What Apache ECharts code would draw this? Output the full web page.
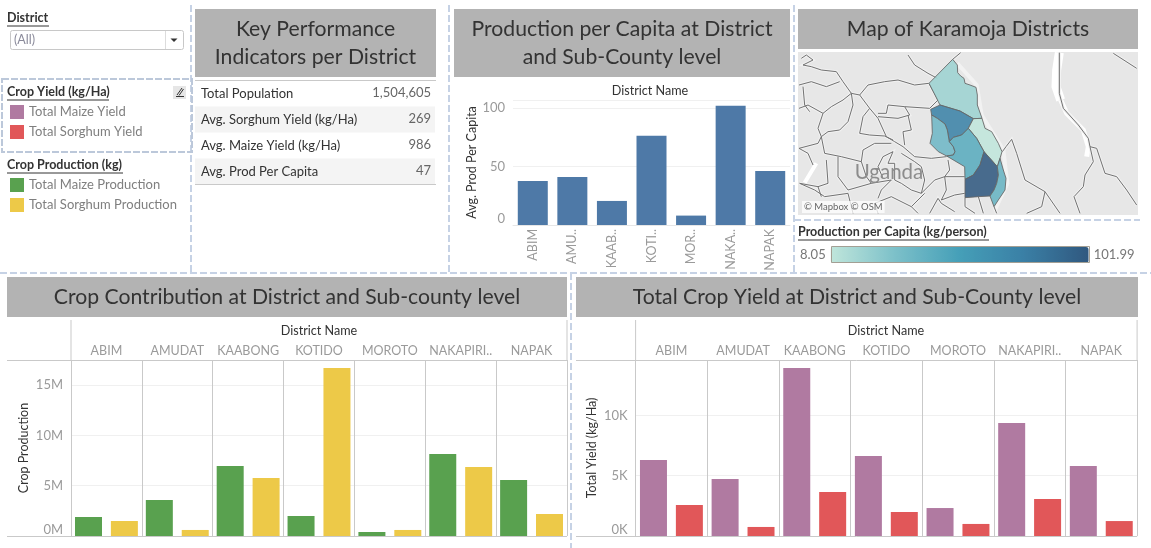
<!DOCTYPE html>
<html><head><meta charset="utf-8">
<style>html,body{margin:0;padding:0;background:#fff}#c{width:1151px;height:548px}</style>
<script src="https://cdn.jsdelivr.net/npm/echarts@6/dist/echarts.min.js"></script>
</head><body><div id="c"></div>
<script>
const districts = ['ABIM','AMUDAT','KAABONG','KOTIDO','MOROTO','NAKAPIRITI','NAPAK'];
const facetLabels = ['ABIM','AMUDAT','KAABONG','KOTIDO','MOROTO','NAKAPIRI..','NAPAK'];
const shortLabels = ['ABIM','AMU..','KAAB..','KOTI..','MOR..','NAKA..','NAPAK'];
const prodPerCapita = [37.7,41.1,20.6,76.3,8.05,101.99,46.3];
const maizeProduction = [1890000,3580000,6970000,1990000,400000,8160000,5570000];
const sorghumProduction = [1490000,600000,5770000,16700000,600000,6870000,2190000];
const maizeYield = [6300,4730,13930,6630,2320,9370,5800];
const sorghumYield = [2570,750,3650,1990,1000,3070,1240];
const kpiLabels = ['Total Population','Avg. Sorghum Yield (kg/Ha)','Avg. Maize Yield (kg/Ha)','Avg. Prod Per Capita'];
const kpiValues = ['1,504,605','269','986','47'];

// map geometry, in map units
const districtShapes = {
  KAABONG:[[98,28],[112,45],[113,68],[122,78],[132,85],[135,100],[150,105],[168,112],[172,135],[172,165],[186,205],[160,206],[120,183],[60,165],[27,100]],
  KOTIDO:[[60,165],[120,183],[160,206],[145,235],[125,255],[100,262],[88,275],[82,240],[75,222],[52,205],[35,195],[32,178]],
  MOROTO:[[186,205],[195,235],[215,245],[235,280],[246,305],[240,325],[232,350],[192,305],[170,265],[145,235],[160,206]],
  ABIM:[[35,195],[52,205],[75,222],[82,240],[88,275],[100,290],[105,305],[100,315],[80,318],[55,305],[30,280],[37,250]],
  NAPAK:[[88,275],[100,262],[125,255],[145,235],[170,265],[192,305],[180,345],[160,375],[135,388],[134,350],[80,318],[100,315],[105,305],[100,290]],
  NAKAPIRITI:[[192,305],[232,350],[235,375],[230,400],[222,420],[210,438],[175,440],[135,443],[135,388],[160,375],[180,345]],
  AMUDAT:[[232,350],[240,325],[250,360],[258,385],[255,420],[235,450],[222,470],[210,438],[222,420],[230,400],[235,375]]
};
const westRoads = [
 [[10,25],[25,15],[45,30],[15,45],[40,50],[70,60],[115,65],[135,95],[160,130],[185,135],[210,105],[260,95],[300,90],[350,105],[392,100]],
 [[330,15],[350,45],[390,70],[418,85]],
 [[3,105],[40,95],[85,110],[125,95]],
 [[15,110],[20,165],[35,185]],
 [[160,130],[135,150],[100,170],[75,190],[60,235],[70,260]],
 [[3,175],[30,165],[75,190]],
 [[185,135],[215,175],[240,205],[265,260],[290,275],[315,290],[350,320],[400,325],[445,320]],
 [[160,130],[165,165],[150,215],[125,240],[90,245],[70,260],[60,280],[3,295]],
 [[215,175],[195,200],[185,250],[215,255],[260,258],[285,270]],
 [[240,190],[265,190],[270,165],[320,170],[395,175],[420,150],[393,100]],
 [[330,195],[340,240],[315,245],[320,285]],
 [[320,170],[335,195],[300,205],[240,200]],
 [[70,260],[80,310],[130,320],[190,335],[195,300],[230,280],[280,280]],
 [[120,320],[120,380],[150,420],[220,400],[280,390]],
 [[85,330],[90,400],[60,410],[5,400]],
 [[255,320],[285,305],[270,340],[290,340],[290,390],[310,400]],
 [[310,310],[350,335],[370,350],[380,390],[370,430],[410,390],[440,380],[500,380]],
 [[450,330],[455,360],[440,380],[445,420],[430,450],[470,435],[500,430]],
 [[5,400],[50,420],[80,440],[150,430]],
 [[240,490],[230,460],[280,440],[340,470],[380,430]],
 [[395,490],[420,445],[430,460],[470,485]],
 [[3,295],[30,310],[45,345]],
 [[150,430],[165,490]],
 [[280,390],[250,420],[240,445]],
 [[340,470],[360,490]],
 [[60,410],[70,440]],
 [[310,400],[340,420],[370,430]],
 [[190,335],[205,380],[220,400]],
 [[255,320],[240,350],[255,385]]
];
const eastRoads = [
 [[418,8],[418,130],[430,175],[475,225],[505,265],[510,290],[520,335],[495,375],[490,410],[462,440],[480,490]],
 [[510,290],[530,295],[555,370],[590,380],[620,420],[650,465]],
 [[580,10],[650,55]],
 [[247,305],[258,290],[275,268],[290,310],[315,390],[375,425],[420,490]],
 [[375,425],[365,470],[320,490]],
 [[98,28],[122,8]],
 [[135,443],[135,470],[165,490]],
 [[175,440],[190,490]],
 [[222,470],[230,490]]
];
const riverWide = [[418,8],[410,60],[408,110],[422,150]];
const riverNarrow = [[422,150],[440,190],[490,240],[505,290],[500,320]];
const westLake = [[20,398],[55,340]];
const borderHalo = [[112,40],[170,105],[185,195],[250,300],[262,400],[225,480]];

const font = 'Lato, "Noto Sans", sans-serif';
const EAST = 366;
const toGeo = p => [p[0], -p[1]];
const toGeoE = p => [p[0] + EAST, -p[1]];

echarts.registerMap('karamoja', {type:'FeatureCollection', features: Object.keys(districtShapes).map(n => {
  const r = districtShapes[n].map(toGeoE); r.push(r[0]);
  return {type:'Feature', properties:{name:n}, geometry:{type:'Polygon', coordinates:[r]}};
})});
echarts.registerMap('backdrop', {type:'FeatureCollection', features:[{type:'Feature', properties:{name:'land'},
  geometry:{type:'Polygon', coordinates:[[[0,-6],[1020,-6],[1020,-495],[0,-495],[0,-6]]]}}]});

const mapBox = {left:798, top:52, width:340, height:163};
const mapBounds = [[0,-6],[1020,-495]];

const gridLine = '#c9c9c9', faint = '#f0f0f0', tickText = '#9a9a9a', dark = '#333';
const G = [];
const text = (x,y,t,o={}) => G.push({type:'text', silent:true, z:o.z||10, x, y, style:{text:t, fill:o.fill||dark,
  font:`${o.weight||'normal'} ${o.size||13}px ${font}`, textAlign:o.align||'left', textVerticalAlign:'middle', backgroundColor:o.bg, padding:o.pad}});
const rect = (x,y,w,h,fill,o={}) => G.push({type:'rect', silent:true, z:o.z||1, shape:{x,y,width:w,height:h,r:o.r||0},
  style:{fill, stroke:o.stroke, lineWidth:o.lw||1}});
const line = (x1,y1,x2,y2,stroke,o={}) => G.push({type:'line', silent:true, z:o.z||5, shape:{x1,y1,x2,y2},
  style:{stroke, lineWidth:o.lw||1, lineDash:o.dash}});
const dash = (x1,y1,x2,y2) => line(x1,y1,x2,y2,'#c6d2e5',{lw:2,dash:[7,3],z:6});
const title = (x,y,w,h,lines) => { rect(x,y,w,h,'#b3b3b3');
  lines.forEach((t,i)=> text(x+w/2, y+h/2+(i-(lines.length-1)/2)*28, t, {size:21.2, align:'center'})); };
const heading = (x,y,t,w) => { text(x,y,t,{size:12.5,weight:'bold'}); line(x,y+8,x+w,y+8,dark); };

// frame
dash(191,5,191,272); dash(449,5,449,272); dash(794,5,794,272);
dash(0,273,1151,273); dash(571,273,571,548);
dash(794,220,1140,220);
G.push({type:'rect',silent:true,z:6,shape:{x:2,y:79,width:190,height:73},style:{fill:null,stroke:'#bcc8da',lineWidth:2,lineDash:[7,2]}});

// titles
title(195,9,241,68,['Key Performance','Indicators per District']);
title(454,9,336,68,['Production per Capita at District','and Sub-County level']);
title(798,9,340,40,['Map of Karamoja Districts']);
title(7,277,560,40,['Crop Contribution at District and Sub-county level']);
title(576,277,562,40,['Total Crop Yield at District and Sub-County level']);

// filter
heading(7,18,'District',42);
rect(10.5,30.5,173,19,'#fff',{stroke:'#c8c8c8',r:2});
line(165.5,31,165.5,49,'#dcdcdc');
text(14,40,'(All)',{fill:'#8a8a9a',size:12.5});
G.push({type:'polygon',silent:true,z:7,shape:{points:[[170.5,38.5],[177.5,38.5],[174,42]]},style:{fill:'#333'}});
heading(7,92,'Crop Yield (kg/Ha)',102);
heading(7,165,'Crop Production (kg)',116);
rect(173,86,13,13,'#e6e6e6');
line(176,96.5,184,96.5,'#333');
line(177,95,182,88,'#333');
line(179,95.5,183.5,89,'#333');

// KPI
line(195,80.5,436,80.5,gridLine);
kpiLabels.forEach((k,i)=>{
  if(i%2) rect(195,80.5+i*26,240,26,'#f4f4f4');
  text(201,93.5+i*26,k,{size:13});
  text(431,93+i*26,kpiValues[i],{size:13,align:'right',fill:'#666'});
});
line(195,184.5,436,184.5,gridLine);

// facet furniture
text(650,90.5,'District Name',{size:12.6,align:'center'});
text(319,330.5,'District Name',{size:12.6,align:'center'});
text(886,330.5,'District Name',{size:12.6,align:'center'});
[[71,567,7],[635.6,1137.1,576]].forEach(([l,r,o])=>{
  line(l,320,l,360,gridLine); line(r,320,r,360,gridLine);
  line(o,360.5,r,360.5,gridLine); line(o,536.5,r,536.5,gridLine);
});

// map text
text(889,172,'Uganda',{size:20.5,fill:'#8c8c8c',align:'center',z:12});
text(802,207,'© Mapbox © OSM',{size:9.5,fill:'#666',bg:'rgba(255,255,255,.75)',pad:[1,2],z:12});
heading(798,232,'Production per Capita (kg/person)',191);
G.push({type:'rect',silent:true,z:20,shape:{x:831.5,y:246.5,width:258,height:16},style:{fill:null,stroke:'#a39f94',lineWidth:1}});

const catAxisTop = (gridIndex) => ({type:'category', gridIndex, position:'top', data:facetLabels,
  axisLine:{show:false}, axisTick:{show:true,length:20,lineStyle:{color:gridLine}},
  axisLabel:{interval:0,margin:3,color:tickText,fontFamily:font,fontSize:12.5},
  splitLine:{show:true,interval:0,lineStyle:{color:gridLine}}});
const valAxis = (gridIndex,max,interval,fmt,name,gap) => ({type:'value', gridIndex, min:0, max, interval, name, nameLocation:'middle', nameGap:gap,
  nameTextStyle:{color:dark,fontFamily:font,fontSize:12.5},
  axisLine:{show:false}, axisTick:{show:false},
  axisLabel:{color:tickText,fontFamily:font,fontSize:13,margin:8,showMaxLabel:false,verticalAlignMinLabel:'bottom',formatter:fmt},
  splitLine:{lineStyle:{color:faint}}});
const bars = (name,data,x,color,extra={}) => Object.assign({type:'bar',name,data,xAxisIndex:x,yAxisIndex:x,barWidth:27,barGap:'33%',
  itemStyle:{color},silent:true,animation:false},extra);
const lineData = a => a.map(c=>({coords:c}));
const roads = westRoads.map(r=>r.map(toGeo)).concat(eastRoads.map(r=>r.map(toGeoE)));
const geoLines = (data,color,width,z) => ({type:'lines',coordinateSystem:'geo',polyline:true,silent:true,z,
  data:lineData(data),lineStyle:{color,width,opacity:1}});

const legend = (top,names) => ({top,left:10,padding:0,orient:'vertical',data:names,icon:'rect',itemWidth:14,itemHeight:14,itemGap:6,
  selectedMode:false,textStyle:{color:'#7f7f7f',fontFamily:font,fontSize:13,padding:[0,0,0,0]},itemStyle:{borderWidth:0}});

const chart = echarts.init(document.getElementById('c'),null,{renderer:'canvas'});
chart.setOption({
  animation:false,
  backgroundColor:'#fff',
  graphic:G,
  legend:[legend(105,['Total Maize Yield','Total Sorghum Yield']),legend(178,['Total Maize Production','Total Sorghum Production'])],
  grid:[
    {left:513,top:100,width:277,height:125},
    {left:71,top:360,width:496,height:176},
    {left:635.6,top:360,width:501.5,height:176}
  ],
  xAxis:[
    {type:'category',gridIndex:0,data:shortLabels,axisLine:{lineStyle:{color:'#e6e6e6'}},axisTick:{lineStyle:{color:'#e6e6e6'}},
     axisLabel:{interval:0,rotate:90,margin:4,color:tickText,fontFamily:font,fontSize:12.5},splitLine:{show:false}},
    catAxisTop(1),catAxisTop(2)
  ],
  yAxis:[
    valAxis(0,107,50,v=>v,'Avg. Prod Per Capita',34),
    valAxis(1,17500000,5000000,v=>(v/1e6)+'M','Crop Production',41),
    valAxis(2,14600,5000,v=>(v/1e3)+'K','Total Yield (kg/Ha)',37)
  ],
  geo:Object.assign({map:'backdrop',roam:false,silent:true,aspectScale:1,boundingCoords:mapBounds,z:0,
    itemStyle:{areaColor:'#e7e7e7',borderWidth:0},label:{show:false}},mapBox),
  visualMap:{type:'continuous',min:8.05,max:101.99,seriesIndex:0,orient:'horizontal',left:785,top:232,itemWidth:16,itemHeight:258,
    text:['101.99','8.05'],textGap:5,calculable:false,realtime:false,hoverLink:false,
    textStyle:{color:'#777',fontFamily:font,fontSize:13},
    inRange:{color:['#c0e6db','#7cc0c9','#459fb8','#3a7fa5','#30587f']}},
  series:[
    Object.assign({type:'map',map:'karamoja',roam:false,silent:true,showLegendSymbol:false,aspectScale:1,boundingCoords:mapBounds,z:4,
      data:districts.map((n,i)=>({name:n,value:prodPerCapita[i]})),
      label:{show:false},itemStyle:{borderColor:'#666',borderWidth:1,opacity:.87}},mapBox),
    geoLines([riverWide.map(toGeoE)],'#fff',9,1),
    geoLines([riverNarrow.map(toGeoE)],'#fff',5,1),
    geoLines([westLake.map(toGeo)],'#fff',4,1),
    geoLines([borderHalo.map(toGeoE)],'#f2f2f2',4,1),
    geoLines(roads,'#f1f1f1',3,2),
    geoLines(roads,'#727272',1,3),
    {type:'bar',name:'Avg. Prod Per Capita',data:prodPerCapita,xAxisIndex:0,yAxisIndex:0,barWidth:30,itemStyle:{color:'#4e79a7'},silent:true},
    bars('Total Maize Production',maizeProduction,1,'#59a14f'),
    bars('Total Sorghum Production',sorghumProduction,1,'#edc948'),
    bars('Total Maize Yield',maizeYield,2,'#b07aa1'),
    bars('Total Sorghum Yield',sorghumYield,2,'#e15759')
  ]
});
</script></body></html>
